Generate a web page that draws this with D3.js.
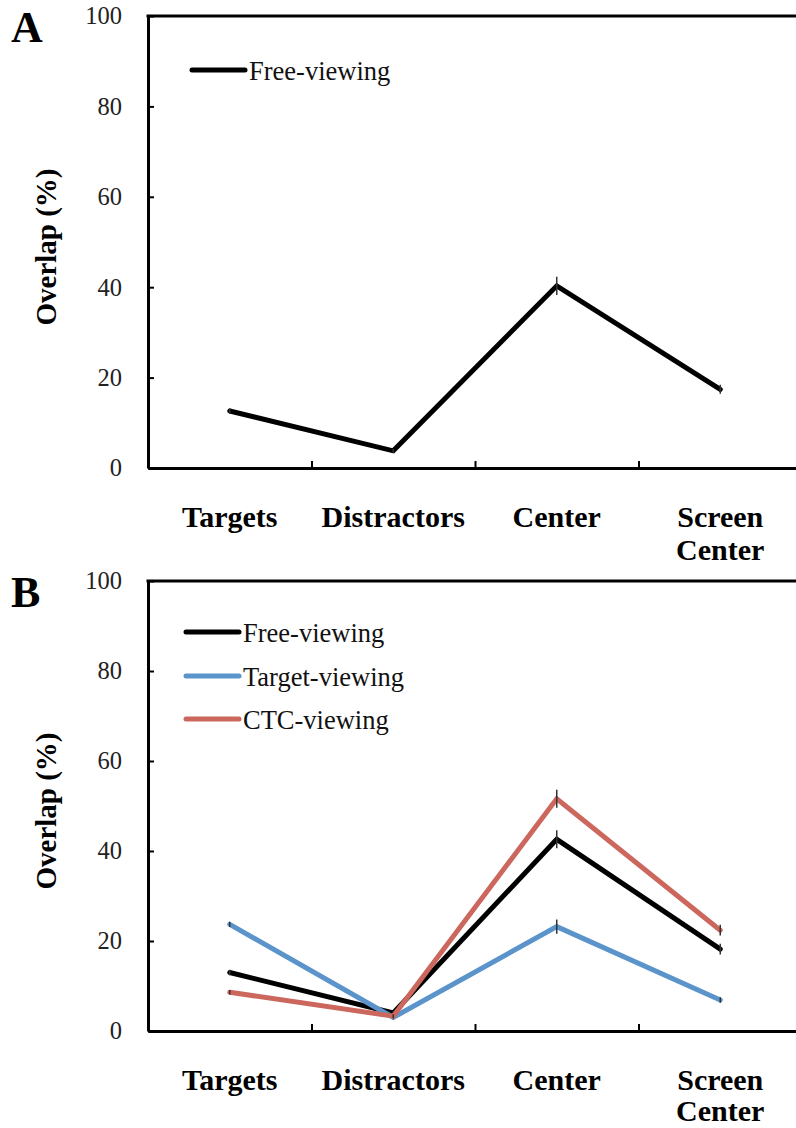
<!DOCTYPE html>
<html><head><meta charset="utf-8">
<script src="https://cdn.jsdelivr.net/npm/d3@7"></script>
<style>body{margin:0;background:#fff}svg{display:block}</style>
</head><body>
<svg id="c" width="796" height="1128"></svg>
<script>
const categories = [["Targets"],["Distractors"],["Center"],["Screen","Center"]];
const yTicks = [0,20,40,60,80,100];
const freeA = [12.6, 3.8, 40.3, 17.4];
const freeAErr = [0.6, 0.4, 2.0, 1.0];
const freeB = [13.0, 4.0, 42.6, 18.2];
const freeBErr = [0.6, 0.4, 2.0, 1.2];
const targetB = [23.7, 3.0, 23.2, 6.9];
const targetBErr = [0.6, 0.4, 1.6, 0.6];
const ctcB = [8.6, 3.3, 51.6, 22.4];
const ctcBErr = [0.5, 0.4, 2.0, 1.2];

const FONT = '"Liberation Serif", "Times New Roman", serif';
const panels = [
  {letter:"A", top:16, bottom:468, lineGap:33, series:[{name:"Free-viewing", values:freeA, err:freeAErr, color:"#000"}], legendX:192, legendY:[70]},
  {letter:"B", top:581, bottom:1031, lineGap:31, series:[
     {name:"Free-viewing", values:freeB, err:freeBErr, color:"#000"},
     {name:"Target-viewing", values:targetB, err:targetBErr, color:"#5b93cb"},
     {name:"CTC-viewing", values:ctcB, err:ctcBErr, color:"#cc675e"}], legendX:186, legendY:[632,676,719]}
];
const svg = d3.select("#c");
const x = d3.scaleLinear().domain([0,4]).range([148,802]);

panels.forEach(p => {
  const g = svg.append("g");
  const y = d3.scaleLinear().domain([0,100]).range([p.bottom,p.top]);
  g.append("text").attr("x",11).attr("y",p.top+26).style("font-weight","bold").style("font-family",FONT)
    .attr("font-size",44).text(p.letter);
  const ya = g.append("g").attr("transform",`translate(148,0)`)
    .call(d3.axisLeft(y).tickValues(yTicks).tickSize(-6).tickSizeOuter(0).tickPadding(26));
  ya.select(".domain").attr("stroke-width",3);
  ya.selectAll(".tick line").attr("stroke-width",2);
  ya.selectAll("text").attr("font-size",24.5).attr("fill","#222").style("font-family",FONT);
  const xa = g.append("g").attr("transform",`translate(0,${p.bottom})`)
    .call(d3.axisBottom(x).tickValues([1,2,3]).tickSize(-7).tickSizeOuter(0).tickFormat(""));
  xa.select(".domain").attr("stroke-width",3);
  xa.selectAll(".tick line").attr("stroke-width",2);
  g.append("line").attr("x1",146.5).attr("x2",796).attr("y1",p.top).attr("y2",p.top)
    .attr("stroke","#000").attr("stroke-width",3);
  g.append("text").attr("transform",`translate(56,${(p.top+p.bottom)/2+5}) rotate(-90)`)
    .attr("text-anchor","middle").style("font-weight","bold").style("font-family",FONT).attr("font-size",29)
    .text("Overlap (%)");
  categories.forEach((c,i) => {
    const t = g.append("text").attr("x",x(i+0.5)).attr("y",p.bottom+59).attr("text-anchor","middle")
      .style("font-weight","bold").style("font-family",FONT).attr("font-size",30);
    c.forEach((s,j)=> t.append("tspan").attr("x",x(i+0.5)).attr("dy",j?p.lineGap:0).text(s));
  });
  const line = d3.line().x((d,i)=>x(i+0.5)).y(d=>y(d));
  p.series.forEach(s => {
    g.append("path").attr("d",line(s.values)).attr("fill","none").attr("stroke",s.color)
      .attr("stroke-width",5).attr("stroke-linejoin","miter").attr("stroke-linecap","round");
    s.values.forEach((v,i)=>{
      g.append("line").attr("x1",x(i+0.5)).attr("x2",x(i+0.5)).attr("y1",y(v+s.err[i])).attr("y2",y(v-s.err[i]))
        .attr("stroke","#333").attr("stroke-width",1.5);
    });
  });
  p.series.forEach((s,k)=>{
    const ly = p.legendY[k];
    g.append("line").attr("x1",p.legendX).attr("x2",p.legendX+53).attr("y1",ly).attr("y2",ly)
      .attr("stroke",s.color).attr("stroke-width",5).attr("stroke-linecap","round");
    g.append("text").attr("x",p.legendX+57).attr("y",ly+10).attr("font-size",26.5).style("font-family",FONT)
      .attr("fill","#111").text(s.name);
  });
});
</script>
</body></html>
